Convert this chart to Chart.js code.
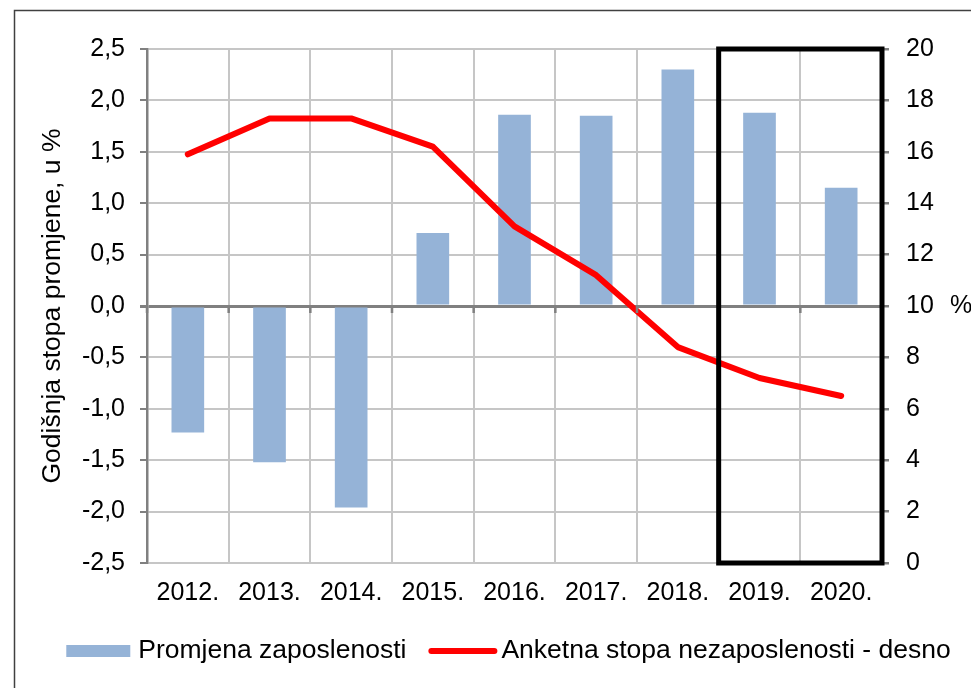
<!DOCTYPE html>
<html>
<head>
<meta charset="utf-8">
<script src="https://cdn.jsdelivr.net/npm/chart.js@4"></script>
<style>
  body { margin: 0; background: #fff; }
  #chart { display: block; }
</style>
</head>
<body>
<canvas id="chart" width="971" height="688"></canvas>
<script>
const context = document.getElementById("chart");

const years = ["2012.", "2013.", "2014.", "2015.", "2016.", "2017.", "2018.", "2019.", "2020."];
const employmentChange = [-1.23, -1.52, -1.96, 0.71, 1.86, 1.85, 2.3, 1.88, 1.15];
const unemploymentRate = [15.9, 17.3, 17.3, 16.2, 13.1, 11.2, 8.4, 7.2, 6.5];
const leftTicks = [-2.5, -2.0, -1.5, -1.0, -0.5, 0, 0.5, 1.0, 1.5, 2.0, 2.5];
const rightTicks = [0, 2, 4, 6, 8, 10, 12, 14, 16, 18, 20];
const highlightFrom = "2019.";

const barLabel = "Promjena zaposlenosti";
const lineLabel = "Anketna stopa nezaposlenosti - desno";
const leftTitle = "Godišnja stopa promjene, u %";

const FONT = "'Liberation Sans', Arial, sans-serif";
const gridGrey = "#c6c6c6";
const axisGrey = "#808080";

// frame, zero line ticks, highlight box, % label, legend
const extras = {
  id: "extras",
  beforeDraw(chart) {
    const ctx = chart.ctx;
    ctx.save();
    ctx.strokeStyle = "#404040";
    ctx.lineWidth = 1.5;
    ctx.beginPath();
    ctx.moveTo(14.5, chart.height);
    ctx.lineTo(14.5, 10.5);
    ctx.lineTo(chart.width, 10.5);
    ctx.stroke();
    ctx.restore();
  },
  afterDatasetsDraw(chart) {
    const ctx = chart.ctx;
    const x = chart.scales.x;
    const y = chart.scales.y;
    const area = chart.chartArea;
    const half = (x.getPixelForValue(1) - x.getPixelForValue(0)) / 2;
    const zeroY = y.getPixelForValue(0);

    ctx.save();
    // category tick marks hanging off the zero line
    ctx.strokeStyle = axisGrey;
    ctx.lineWidth = 2.5;
    ctx.beginPath();
    for (let i = 0; i <= years.length; i++) {
      const px = x.getPixelForValue(0) - half + i * half * 2;
      ctx.moveTo(px, zeroY);
      ctx.lineTo(px, zeroY + 7);
    }
    ctx.stroke();

    // highlight box
    const idx = years.indexOf(highlightFrom);
    const left = x.getPixelForValue(idx) - half;
    ctx.strokeStyle = "#000";
    ctx.lineWidth = 5;
    ctx.strokeRect(left, area.top, area.right - left, area.bottom - area.top);
    ctx.restore();
  },
  afterDraw(chart) {
    const ctx = chart.ctx;
    const area = chart.chartArea;
    const y2 = chart.scales.y2;
    ctx.save();
    ctx.fillStyle = "#000";
    ctx.font = "25px " + FONT;
    ctx.textBaseline = "middle";
    ctx.textAlign = "left";
    ctx.fillText("%", 950, y2.getPixelForValue(10));

    // legend
    const barDs = chart.data.datasets[0];
    const lineDs = chart.data.datasets[1];
    ctx.font = "26.5px " + FONT;
    const w1 = ctx.measureText(barDs.label).width;
    const w2 = ctx.measureText(lineDs.label).width;
    const total = 64 + 8 + w1 + 22 + 69 + 4 + w2;
    let lx = (area.left + area.right) / 2 - 6 - total / 2;
    const ly = 651;

    ctx.fillStyle = barDs.backgroundColor;
    ctx.fillRect(lx, ly - 6, 64, 12);
    lx += 72;
    ctx.fillStyle = "#000";
    ctx.fillText(barDs.label, lx, ly);
    lx += w1 + 22;

    ctx.strokeStyle = lineDs.borderColor;
    ctx.lineWidth = 6;
    ctx.lineCap = "round";
    ctx.beginPath();
    ctx.moveTo(lx + 3, ly);
    ctx.lineTo(lx + 66, ly);
    ctx.stroke();
    lx += 73;
    ctx.fillText(lineDs.label, lx, ly);
    ctx.restore();
  },
};

const chart = new Chart(context, {
  type: "bar",
  data: {
    labels: years,
    datasets: [
      {
        type: "bar",
        label: barLabel,
        data: employmentChange,
        backgroundColor: "#95b3d7",
        borderWidth: 0,
        categoryPercentage: 1,
        barPercentage: 0.4,
        yAxisID: "y",
        order: 1,
      },
      {
        type: "line",
        label: lineLabel,
        data: unemploymentRate,
        borderColor: "#ff0000",
        backgroundColor: "#ff0000",
        borderWidth: 6,
        borderJoinStyle: "round",
        borderCapStyle: "round",
        pointRadius: 0,
        tension: 0,
        yAxisID: "y2",
        order: 0,
      },
    ],
  },
  plugins: [extras],
  options: {
    responsive: false,
    animation: false,
    devicePixelRatio: 1,
    layout: {
      padding: { top: 49, left: 0, right: 0, bottom: 0 },
    },
    scales: {
      x: {
        offset: true,
        grid: {
          offset: true,
          color: gridGrey,
          lineWidth: 2,
          drawTicks: false,
        },
        border: { display: false },
        ticks: {
          color: "#000",
          padding: 15,
          maxRotation: 0,
          font: { family: FONT, size: 25 },
        },
        afterFit: (scale) => {
          scale.height = 125;
        },
      },
      y: {
        position: "left",
        min: leftTicks[0],
        max: leftTicks[leftTicks.length - 1],
        afterBuildTicks: (scale) => {
          scale.ticks = leftTicks.map((v) => ({ value: v }));
        },
        grid: {
          color: (c) => (c.tick && c.tick.value === 0 ? axisGrey : gridGrey),
          lineWidth: (c) => (c.tick && c.tick.value === 0 ? 3 : 2),
          tickColor: axisGrey,
          tickLength: 7,
        },
        border: { display: true, color: axisGrey, width: 2.5 },
        ticks: {
          color: "#000",
          padding: 15,
          font: { family: FONT, size: 25 },
          callback: (v) => Number(v).toFixed(1).replace(".", ","),
        },
        title: {
          display: true,
          text: leftTitle,
          color: "#000",
          font: { family: FONT, size: 26.5 },
          padding: { top: 37, bottom: 0 },
        },
        afterFit: (scale) => {
          scale.width = 147;
        },
      },
      y2: {
        position: "right",
        min: rightTicks[0],
        max: rightTicks[rightTicks.length - 1],
        afterBuildTicks: (scale) => {
          scale.ticks = rightTicks.map((v) => ({ value: v }));
        },
        grid: {
          drawOnChartArea: false,
          tickColor: axisGrey,
          tickLength: 7,
          lineWidth: 2.5,
        },
        border: { display: true, color: axisGrey, width: 2.5 },
        ticks: {
          color: "#000",
          padding: 17,
          font: { family: FONT, size: 25 },
        },
        afterFit: (scale) => {
          scale.width = 89;
        },
      },
    },
    plugins: {
      legend: { display: false },
      tooltip: { enabled: false },
    },
  },
});
</script>
</body>
</html>
